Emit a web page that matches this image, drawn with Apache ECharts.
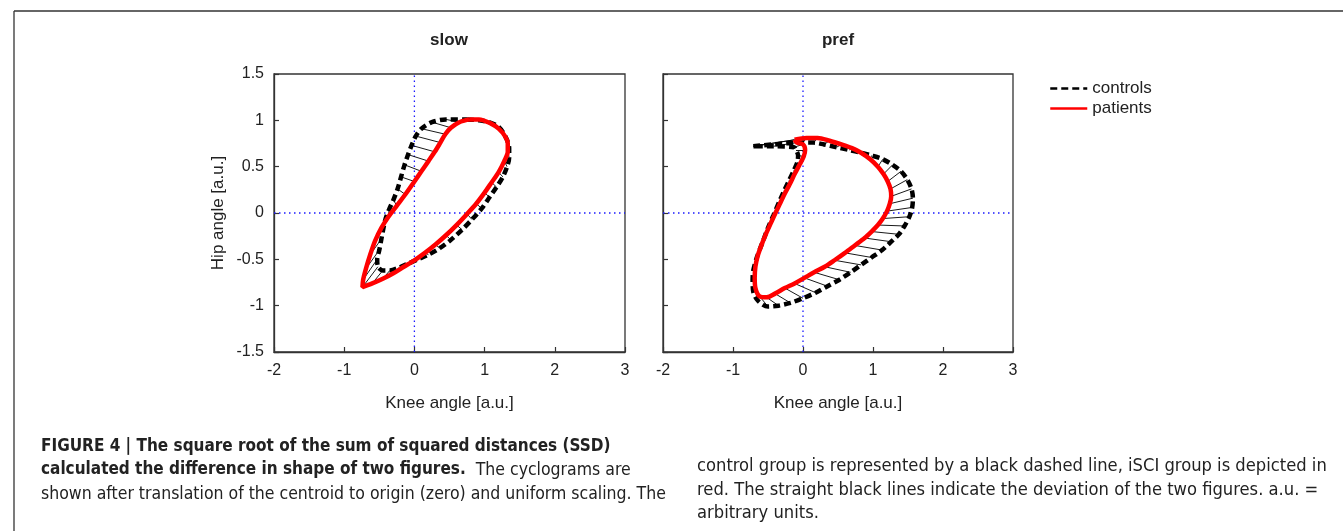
<!DOCTYPE html>
<html><head><meta charset="utf-8">
<script src="https://cdn.jsdelivr.net/npm/echarts@6/dist/echarts.min.js"></script>
<style>html,body{margin:0;padding:0;background:#fff}#c{width:1343px;height:531px}</style>
</head><body><div id="c"></div>
<script>
// ---- data ----
const panelTitles = ['slow', 'pref'];
const legendNames = ['controls', 'patients'];
const xAxisName = 'Knee angle [a.u.]';
const yAxisName = 'Hip angle [a.u.]';
const xRange = [-2, 3];
const yRange = [-1.5, 1.5];
const xTickStep = 1;
const yTickStep = 0.5;

// slow: controls (black dashed) and patients (red), matched point by point
const slowControls = [
  [0.75,1.01],[0.92,1.00],[1.06,0.98],[1.20,0.93],[1.30,0.82],[1.35,0.70],[1.35,0.60],[1.32,0.50],
  [1.26,0.39],[1.17,0.28],[1.07,0.17],[0.96,0.05],[0.82,-0.07],[0.68,-0.18],[0.52,-0.29],[0.36,-0.38],
  [0.20,-0.45],[0.05,-0.50],[-0.10,-0.55],[-0.22,-0.59],[-0.35,-0.62],[-0.45,-0.62],[-0.52,-0.58],[-0.53,-0.50],
  [-0.50,-0.40],[-0.47,-0.28],[-0.44,-0.16],[-0.41,-0.06],[-0.36,0.04],[-0.30,0.14],[-0.24,0.26],[-0.19,0.39],
  [-0.14,0.52],[-0.09,0.63],[-0.04,0.73],[0.02,0.83],[0.10,0.91],[0.25,0.98],[0.45,1.01],[0.75,1.01]
];
const slowPatients = [
  [0.78,1.01],[0.92,1.01],[1.08,0.97],[1.20,0.91],[1.29,0.83],[1.33,0.75],[1.33,0.66],[1.28,0.56],
  [1.20,0.44],[1.10,0.33],[1.00,0.22],[0.88,0.10],[0.75,-0.01],[0.60,-0.13],[0.45,-0.24],[0.30,-0.34],
  [0.15,-0.43],[0.00,-0.51],[-0.15,-0.58],[-0.30,-0.65],[-0.45,-0.71],[-0.60,-0.76],[-0.74,-0.80],[-0.73,-0.72],
  [-0.69,-0.60],[-0.63,-0.45],[-0.56,-0.30],[-0.47,-0.16],[-0.37,-0.04],[-0.25,0.08],[-0.13,0.20],[0.00,0.34],
  [0.10,0.45],[0.20,0.56],[0.29,0.66],[0.37,0.76],[0.44,0.85],[0.52,0.92],[0.64,0.98],[0.78,1.01]
];

// pref: controls (black dashed) and patients (red), matched point by point
const prefControls = [
  [-0.71,0.72],[0.00,0.76],[0.15,0.76],[0.30,0.74],[0.48,0.71],[0.66,0.68],[0.83,0.65],[0.98,0.62],
  [1.14,0.58],[1.28,0.52],[1.40,0.45],[1.49,0.36],[1.55,0.26],[1.57,0.16],[1.56,0.06],[1.52,-0.04],
  [1.45,-0.14],[1.37,-0.23],[1.26,-0.31],[1.13,-0.40],[0.98,-0.48],[0.83,-0.56],[0.68,-0.64],[0.52,-0.72],
  [0.35,-0.79],[0.18,-0.86],[0.00,-0.92],[-0.18,-0.97],[-0.35,-1.00],[-0.50,-1.01],[-0.64,-0.95],[-0.71,-0.85],
  [-0.72,-0.72],[-0.71,-0.62],[-0.66,-0.48],[-0.58,-0.32],[-0.50,-0.16],[-0.42,-0.02],[-0.34,0.12],[-0.27,0.24],
  [-0.20,0.35],[-0.13,0.46],[-0.08,0.55],[-0.07,0.62],[-0.10,0.68],[-0.13,0.71],[-0.42,0.72],[-0.71,0.72]
];
const prefPatients = [
  [-0.12,0.79],[0.05,0.81],[0.21,0.81],[0.38,0.78],[0.55,0.74],[0.70,0.70],[0.83,0.65],[0.96,0.58],
  [1.07,0.50],[1.15,0.42],[1.21,0.34],[1.25,0.26],[1.26,0.18],[1.24,0.10],[1.20,0.02],[1.14,-0.06],
  [1.07,-0.13],[0.98,-0.20],[0.88,-0.27],[0.74,-0.35],[0.60,-0.43],[0.45,-0.51],[0.31,-0.58],[0.16,-0.64],
  [0.02,-0.70],[-0.12,-0.76],[-0.26,-0.81],[-0.40,-0.87],[-0.52,-0.91],[-0.62,-0.90],[-0.68,-0.81],[-0.69,-0.70],
  [-0.68,-0.58],[-0.65,-0.47],[-0.60,-0.36],[-0.52,-0.21],[-0.46,-0.11],[-0.40,-0.01],[-0.33,0.10],[-0.26,0.21],
  [-0.19,0.31],[-0.12,0.42],[-0.05,0.52],[0.01,0.61],[0.03,0.68],[0.00,0.74],[-0.09,0.76],[-0.12,0.79]
];

const captionLeft = [
  [{t:'FIGURE 4 | The square root of the sum of squared distances (SSD)', b:true}],
  [{t:'calculated the difference in shape of two figures.', b:true}, {t:'  The cyclograms are', b:false}],
  [{t:'shown after translation of the centroid to origin (zero) and uniform scaling. The', b:false}]
];
const captionRight = [
  'control group is represented by a black dashed line, iSCI group is depicted in',
  'red. The straight black lines indicate the deviation of the two figures. a.u. =',
  'arbitrary units.'
];

// ---- chart ----
const FONT = '"Liberation Sans", Arial, sans-serif';
const CAPFONT = '"Liberation Sans Narrow", "DejaVu Sans Condensed", "Liberation Sans", sans-serif';
const chart = echarts.init(document.getElementById('c'), null, {renderer: 'canvas'});

const grids = [
  {left: 274, top: 74, width: 351, height: 278},
  {left: 663, top: 74, width: 350, height: 278}
];

function xAx(i) {
  return {
    gridIndex: i, type: 'value', min: xRange[0], max: xRange[1], interval: xTickStep,
    axisLine: {show: true, onZero: false, lineStyle: {color: '#333', width: 1.3}},
    axisTick: {inside: true, length: 5, lineStyle: {color: '#333', width: 1.2}},
    axisLabel: {fontSize: 16, color: '#222', margin: 11, fontFamily: FONT},
    splitLine: {show: false},
    name: xAxisName, nameLocation: 'middle', nameGap: 43,
    nameTextStyle: {fontSize: 17, color: '#222', fontFamily: FONT}
  };
}
function yAx(i) {
  return {
    gridIndex: i, type: 'value', min: yRange[0], max: yRange[1], interval: yTickStep,
    axisLine: {show: true, onZero: false, lineStyle: {color: '#333', width: 1.3}},
    axisTick: {inside: true, length: 5, lineStyle: {color: '#333', width: 1.2}},
    axisLabel: {show: i === 0, fontSize: 16, color: '#222', margin: 10, fontFamily: FONT},
    splitLine: {show: false},
    name: i === 0 ? yAxisName : '', nameLocation: 'middle', nameGap: 47, nameRotate: 90,
    nameTextStyle: {fontSize: 17, color: '#222', fontFamily: FONT}
  };
}

function panelSeries(i, controls, patients) {
  const dev = controls.map((c, k) => ({coords: [c, patients[k]]}));
  const dot = {color: '#1a1aff', width: 1.3, type: [1.5, 3.5]};
  return [
    {type: 'line', xAxisIndex: i, yAxisIndex: i, data: [[0, yRange[0]], [0, yRange[1]]],
     symbol: 'none', silent: true, lineStyle: dot, z: 1},
    {type: 'line', xAxisIndex: i, yAxisIndex: i, data: [[xRange[0], 0], [xRange[1], 0]],
     symbol: 'none', silent: true, lineStyle: dot, z: 1},
    {type: 'lines', coordinateSystem: 'cartesian2d', xAxisIndex: i, yAxisIndex: i, data: dev,
     silent: true, lineStyle: {color: '#000', width: 0.9, opacity: 1}, z: 2},
    {name: legendNames[0], type: 'line', xAxisIndex: i, yAxisIndex: i, data: controls,
     symbol: 'none', smooth: 0.3, silent: true,
     lineStyle: {color: '#000', width: 4.5, type: [7, 4]}, itemStyle: {color: '#000'}, z: 3},
    {name: legendNames[1], type: 'line', xAxisIndex: i, yAxisIndex: i, data: patients,
     symbol: 'none', smooth: 0.3, silent: true,
     lineStyle: {color: '#ff0000', width: 4.5}, itemStyle: {color: '#ff0000'}, z: 4}
  ];
}

const graphics = [
  {type: 'line', shape: {x1: 14, y1: 11, x2: 1343, y2: 11}, style: {stroke: '#333', lineWidth: 1.3}},
  {type: 'line', shape: {x1: 14, y1: 11, x2: 14, y2: 531}, style: {stroke: '#333', lineWidth: 1.3}},
  {type: 'text', x: 449, y: 40, style: {text: panelTitles[0], font: 'bold 17px ' + FONT, fill: '#222', align: 'center', verticalAlign: 'middle'}},
  {type: 'text', x: 838, y: 40, style: {text: panelTitles[1], font: 'bold 17px ' + FONT, fill: '#222', align: 'center', verticalAlign: 'middle'}}
];
const capY = [447, 470, 494];
captionLeft.forEach((parts, li) => {
  const rich = {b: {fontWeight: 'bold', fontSize: 17, fontFamily: CAPFONT, fill: '#222'},
                n: {fontWeight: 'normal', fontSize: 17.5, fontFamily: CAPFONT, fill: '#222'}};
  const txt = parts.map(p => '{' + (p.b ? 'b' : 'n') + '|' + p.t + '}').join('');
  graphics.push({type: 'text', x: 41, y: capY[li],
    style: {text: txt, rich: rich, align: 'left', verticalAlign: 'middle', fill: '#222'}});
});
const capYR = [466, 490, 513];
captionRight.forEach((t, li) => {
  graphics.push({type: 'text', x: 697, y: capYR[li],
    style: {text: t, font: '18.2px ' + CAPFONT, fill: '#222', align: 'left', verticalAlign: 'middle'}});
});

chart.setOption({
  animation: false,
  backgroundColor: '#fff',
  grid: grids.map(g => Object.assign({show: true, borderColor: '#333', borderWidth: 1.3, backgroundColor: 'rgba(0,0,0,0)'}, g)),
  xAxis: [xAx(0), xAx(1)],
  yAxis: [yAx(0), yAx(1)],
  legend: {
    data: legendNames, orient: 'vertical', left: 1044, top: 75, selectedMode: false,
    itemWidth: 37, itemHeight: 12, itemGap: 3,
    lineStyle: {width: 2.5},
    itemStyle: {opacity: 0},
    textStyle: {fontSize: 17, color: '#222', fontFamily: FONT}
  },
  series: [].concat(panelSeries(0, slowControls, slowPatients), panelSeries(1, prefControls, prefPatients)),
  graphic: graphics
});
</script></body></html>
